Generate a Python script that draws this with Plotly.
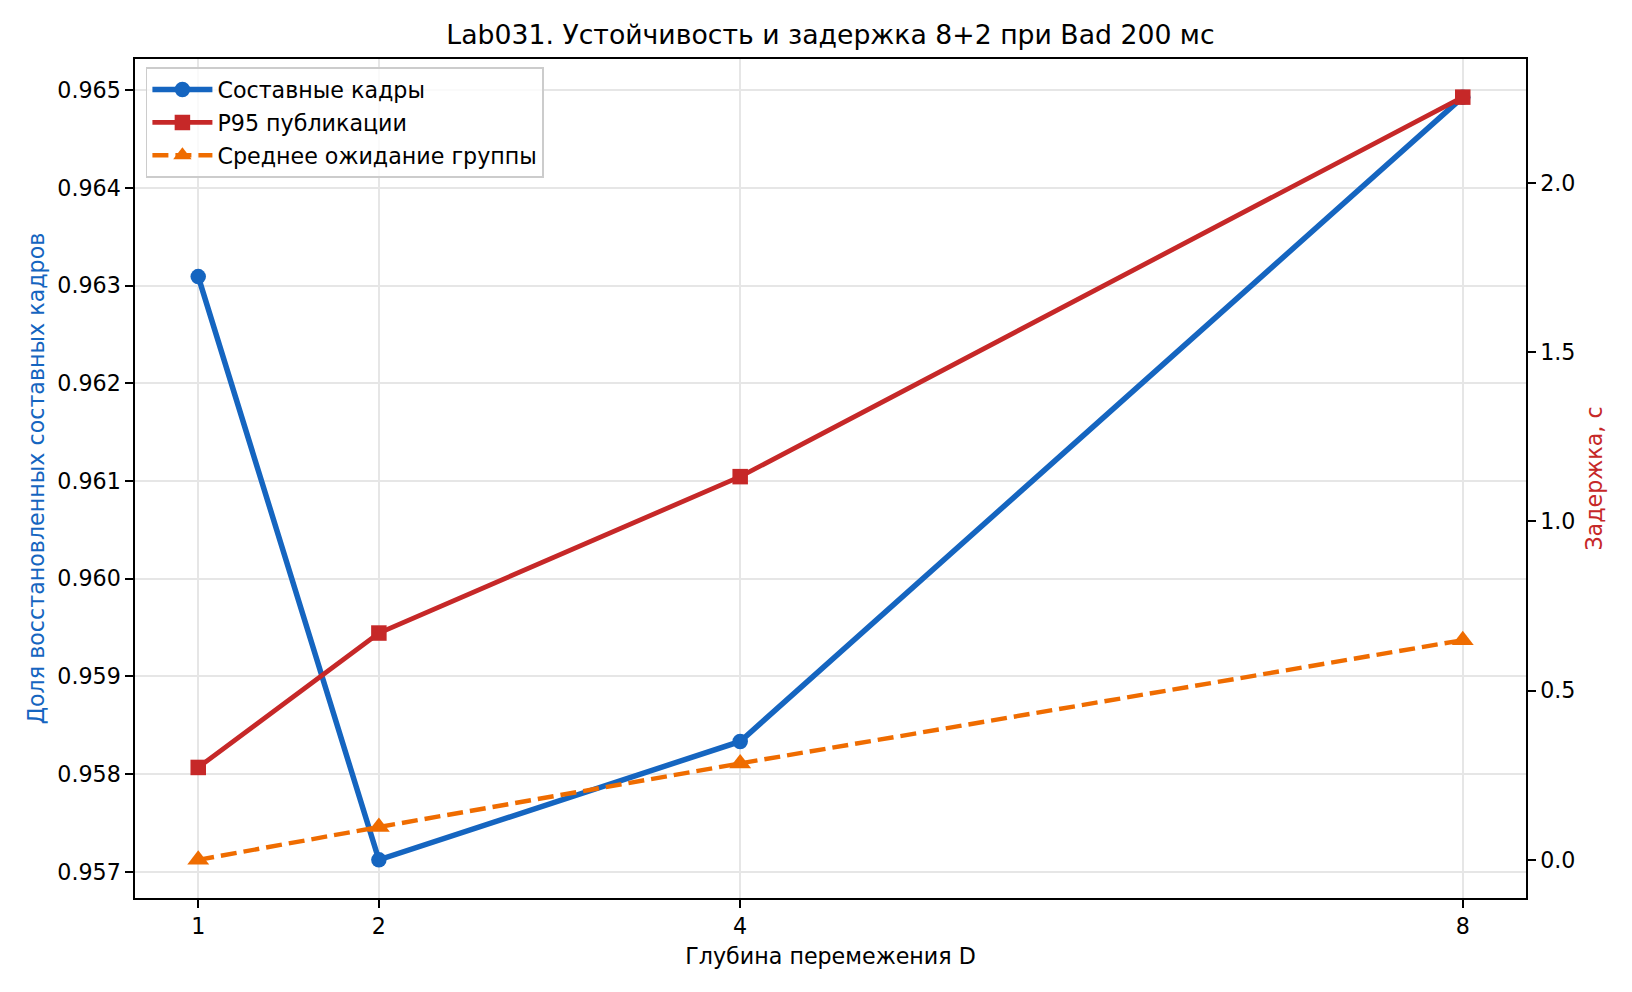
import plotly.graph_objects as go

# Data
depth = [1, 2, 4, 8]
composite_frames = [0.963092, 0.957122, 0.958334, 0.964929]
p95_publish = [0.273, 0.670, 1.132, 2.253]
mean_group_wait = [0.0, 0.097, 0.285, 0.649]

x_ticks = [1, 2, 4, 8]
left_ticks = [0.957, 0.958, 0.959, 0.960, 0.961, 0.962, 0.963, 0.964, 0.965]
right_ticks = [0.0, 0.5, 1.0, 1.5, 2.0]

title = "Lab031. Устойчивость и задержка 8+2 при Bad 200 мс"
x_label = "Глубина перемежения D"
left_label = "Доля восстановленных составных кадров"
right_label = "Задержка, с"
names = ["Составные кадры", "P95 публикации", "Среднее ожидание группы"]

BLUE = "#1565C0"
RED = "#C62828"
ORANGE = "#EF6C00"
FONT = "DejaVu Sans"

# page body has an 8px default margin; compensate so the figure lands as 1632x992
OFF = 8
W, H = 1632 - OFF, 992 - OFF
TICK_FS = 22.2
LABEL_FS = 22.2
TITLE_FS = 26.7


def padded(vals, frac=0.05):
    lo, hi = min(vals), max(vals)
    d = (hi - lo) * frac
    return [lo - d, hi + d]


fig = go.Figure()
fig.add_trace(go.Scatter(
    x=depth, y=composite_frames, name=names[0], mode="lines+markers",
    line=dict(color=BLUE, width=5.5),
    marker=dict(symbol="circle", size=15.5, color=BLUE, line=dict(width=0)),
    yaxis="y", legendgroup="a",
))
fig.add_trace(go.Scatter(
    x=depth, y=p95_publish, name=names[1], mode="lines+markers",
    line=dict(color=RED, width=4.8),
    marker=dict(symbol="square", size=15.5, color=RED, line=dict(width=0)),
    yaxis="y2", legendgroup="b",
))
fig.add_trace(go.Scatter(
    x=depth, y=mean_group_wait, name=names[2], mode="lines+markers",
    line=dict(color=ORANGE, width=4.4, dash="16px,7px"),
    marker=dict(symbol="triangle-up", size=19, color=ORANGE, line=dict(width=0)),
    yaxis="y2", legendgroup="c",
))

axis_common = dict(
    showline=True, linecolor="black", linewidth=1.8,
    ticks="outside", ticklen=7.8, tickwidth=1.8, tickcolor="black",
    zeroline=False,
    tickfont=dict(family=FONT, size=TICK_FS, color="black"),
)

fig.update_layout(
    width=W, height=H,
    margin=dict(l=135 - OFF, r=106, t=59 - OFF, b=94),
    paper_bgcolor="white", plot_bgcolor="white",
    font=dict(family=FONT, size=LABEL_FS, color="black"),
    title=dict(text=title, x=0.5, xref="paper", y=1 - (34.3 - OFF) / H, yref="container",
               xanchor="center", yanchor="middle",
               font=dict(family=FONT, size=TITLE_FS, color="black")),
    xaxis=dict(
        **axis_common, mirror=True,
        range=padded(depth), tickvals=x_ticks, ticktext=[str(v) for v in x_ticks],
        showgrid=True, gridcolor="#e6e6e6", gridwidth=1.6,
        title=dict(text=x_label, standoff=10.5, font=dict(family=FONT, size=LABEL_FS, color="black")),
    ),
    yaxis=dict(
        **axis_common,
        range=padded(composite_frames), tickvals=left_ticks, tickformat=".3f",
        showgrid=True, gridcolor="#e6e6e6", gridwidth=1.6,
        title=dict(text=left_label, standoff=7, font=dict(family=FONT, size=LABEL_FS, color=BLUE)),
    ),
    yaxis2=dict(
        **axis_common,
        overlaying="y", side="right",
        range=padded(p95_publish + mean_group_wait), tickvals=right_ticks, tickformat=".1f",
        showgrid=False,
        title=dict(text=right_label, standoff=12, font=dict(family=FONT, size=LABEL_FS, color=RED)),
    ),
    legend=dict(
        x=0.0077, y=0.9905, xanchor="left", yanchor="top",
        bgcolor="rgba(255,255,255,0.8)", bordercolor="#cccccc", borderwidth=1.7,
        font=dict(family=FONT, size=LABEL_FS, color="black"),
        itemwidth=60, tracegroupgap=1,
    ),
    showlegend=True,
)

fig.write_html("out.html")
